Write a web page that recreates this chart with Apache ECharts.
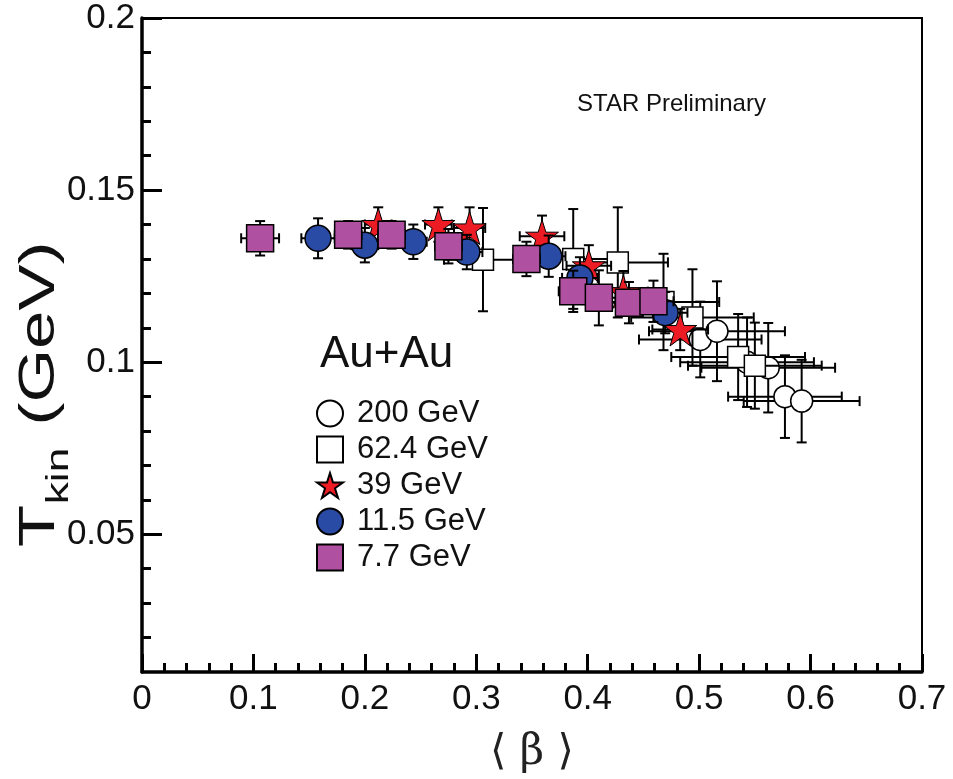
<!DOCTYPE html>
<html>
<head>
<meta charset="utf-8">
<script src="https://cdn.jsdelivr.net/npm/echarts@6/dist/echarts.min.js"></script>
<style>
  html, body { margin: 0; padding: 0; background: #fff; }
  #chart { width: 953px; height: 779px; }
</style>
</head>
<body>
<div id="chart"></div>
<script>
// Kinetic freeze-out temperature vs mean radial flow velocity, Au+Au
const energies = ['200 GeV', '62.4 GeV', '39 GeV', '11.5 GeV', '7.7 GeV'];

const beta200 = [0.501, 0.516, 0.543, 0.562, 0.577, 0.592];
const tkin200 = [0.1066, 0.109, 0.100, 0.0984, 0.090, 0.0887];
const betaErr200 = [0.055, 0.061, 0.060, 0.060, 0.051, 0.052];
const tkinErr200 = [0.011, 0.0145, 0.013, 0.013, 0.012, 0.012];

const beta62 = [0.306, 0.387, 0.427, 0.468, 0.494, 0.535, 0.550];
const tkin62 = [0.1298, 0.130, 0.129, 0.1175, 0.113, 0.1015, 0.099];
const betaErr62 = [0.035, 0.040, 0.045, 0.050, 0.055, 0.060, 0.060];
const tkinErr62 = [0.015, 0.0145, 0.016, 0.014, 0.014, 0.0125, 0.0125];

const beta39 = [0.212, 0.266, 0.294, 0.359, 0.401, 0.432, 0.483];
const tkin39 = [0.140, 0.140, 0.139, 0.1366, 0.128, 0.1205, 0.1095];
const betaErr39 = [0.012, 0.012, 0.014, 0.020, 0.020, 0.022, 0.025];
const tkinErr39 = [0.005, 0.005, 0.006, 0.006, 0.006, 0.006, 0.006];

const beta115 = [0.158, 0.200, 0.2435, 0.2915, 0.365, 0.393, 0.4695];
const tkin115 = [0.136, 0.134, 0.135, 0.132, 0.1308, 0.1245, 0.1144];
const betaErr115 = [0.015, 0.012, 0.012, 0.014, 0.015, 0.016, 0.020];
const tkinErr115 = [0.0058, 0.005, 0.005, 0.005, 0.006, 0.006, 0.006];

const beta77 = [0.106, 0.185, 0.224, 0.275, 0.345, 0.387, 0.410, 0.437, 0.459];
const tkin77 = [0.136, 0.137, 0.137, 0.1337, 0.130, 0.1206, 0.1187, 0.1173, 0.1177];
const betaErr77 = [0.017, 0.012, 0.012, 0.012, 0.012, 0.013, 0.015, 0.018, 0.018];
const tkinErr77 = [0.005, 0.004, 0.004, 0.005, 0.005, 0.006, 0.008, 0.006, 0.006];

const xTickLabels = ['0', '0.1', '0.2', '0.3', '0.4', '0.5', '0.6', '0.7'];
const yMajorTicks = [0.05, 0.1, 0.15, 0.2];
const yTickLabels = ['0.05', '0.1', '0.15', '0.2'];
const yMinorTicks = [0.02, 0.03, 0.04, 0.06, 0.07, 0.08, 0.09, 0.11, 0.12, 0.13, 0.14, 0.16, 0.17, 0.18, 0.19];

const FONT = '"Liberation Sans", Arial, sans-serif';
const STAR = 'path://M50,2 L61,36 L97,36 L68,57 L79,92 L50,71 L21,92 L32,57 L3,36 L39,36 Z';

function zip(xs, ys, exs, eys) {
  return xs.map((x, i) => [x, ys[i], exs[i], eys[i]]);
}

function errorBars(params, api) {
  const x = api.value(0), y = api.value(1), ex = api.value(2), ey = api.value(3);
  const l = api.coord([x - ex, y]);
  const r = api.coord([x + ex, y]);
  const t = api.coord([x, y + ey]);
  const b = api.coord([x, y - ey]);
  const cap = 5;
  const st = { stroke: '#000', lineWidth: 2 };
  const line = (x1, y1, x2, y2) => ({ type: 'line', shape: { x1, y1, x2, y2 }, style: st });
  return {
    type: 'group',
    children: [
      line(l[0], l[1], r[0], r[1]),
      line(l[0], l[1] - cap, l[0], l[1] + cap),
      line(r[0], r[1] - cap, r[0], r[1] + cap),
      line(t[0], t[1], b[0], b[1]),
      line(t[0] - cap, t[1], t[0] + cap, t[1]),
      line(b[0] - cap, b[1], b[0] + cap, b[1])
    ]
  };
}

const markerStyles = [
  { symbol: 'circle', size: 22, itemStyle: { color: '#ffffff', borderColor: '#000', borderWidth: 1.5, opacity: 1 } },
  { symbol: 'rect', size: 21, itemStyle: { color: '#ffffff', borderColor: '#000', borderWidth: 1.5, opacity: 1 } },
  { symbol: STAR, size: 33, itemStyle: { color: '#ED1C24', borderColor: '#000', borderWidth: 1, opacity: 1 } },
  { symbol: 'circle', size: 26, itemStyle: { color: '#2A4BA5', borderColor: '#000', borderWidth: 1.5, opacity: 1 } },
  { symbol: 'rect', size: 27, itemStyle: { color: '#B050A0', borderColor: '#000', borderWidth: 1.5, opacity: 1 } }
];

const datasets = [
  zip(beta200, tkin200, betaErr200, tkinErr200),
  zip(beta62, tkin62, betaErr62, tkinErr62),
  zip(beta39, tkin39, betaErr39, tkinErr39),
  zip(beta115, tkin115, betaErr115, tkinErr115),
  zip(beta77, tkin77, betaErr77, tkinErr77)
];

const series = [];
datasets.forEach((data, i) => {
  series.push({
    name: energies[i] + ' errors',
    type: 'custom',
    renderItem: errorBars,
    data: data,
    encode: { x: 0, y: 1 },
    z: 10 + i * 2,
    silent: true
  });
  series.push({
    name: energies[i],
    type: 'scatter',
    data: data.map(d => [d[0], d[1]]),
    symbol: markerStyles[i].symbol,
    symbolSize: markerStyles[i].size,
    itemStyle: markerStyles[i].itemStyle,
    emphasis: { disabled: true },
    z: 11 + i * 2
  });
});

const chart = echarts.init(document.getElementById('chart'), null, { renderer: 'canvas' });

chart.setOption({
  animation: false,
  backgroundColor: '#fff',
  grid: {
    left: 142, top: 18, right: 31, bottom: 106,
    show: true, borderColor: '#000', borderWidth: 2, backgroundColor: 'transparent'
  },
  legend: {
    data: energies,
    orient: 'vertical',
    left: 311,
    top: 393,
    itemWidth: 26,
    itemHeight: 26,
    itemGap: 5,
    selectedMode: false,
    textStyle: { fontFamily: FONT, fontSize: 31, color: '#111', padding: [0, 0, 0, 9] }
  },
  xAxis: {
    type: 'value',
    min: 0, max: 0.7, interval: 0.1,
    name: '⟨ β ⟩',
    nameLocation: 'middle',
    nameGap: 60,
    nameTextStyle: { fontFamily: '"DejaVu Serif", serif', fontSize: 42, color: '#222' },
    axisLine: { show: true, lineStyle: { color: '#000', width: 3.5 } },
    axisTick: { show: true, inside: true, length: 18, lineStyle: { color: '#000', width: 3 } },
    minorTick: { show: true, splitNumber: 5, length: 9, lineStyle: { color: '#000', width: 3 } },
    axisLabel: {
      margin: 10, fontFamily: FONT, fontSize: 35, color: '#111',
      formatter: (v) => xTickLabels[Math.round(v * 10)]
    },
    splitLine: { show: false },
    minorSplitLine: { show: false }
  },
  yAxis: [
    {
      type: 'value',
      min: 0.01, max: 0.2,
      axisLine: { show: true, lineStyle: { color: '#000', width: 3.5 } },
      axisTick: { show: true, inside: true, length: 20, customValues: yMajorTicks, lineStyle: { color: '#000', width: 3 } },
      axisLabel: {
        margin: 7, fontFamily: FONT, fontSize: 35, color: '#111',
        customValues: yMajorTicks,
        formatter: (v) => yTickLabels[yMajorTicks.findIndex(t => Math.abs(t - v) < 1e-6)]
      },
      splitLine: { show: false }
    },
    {
      type: 'value',
      min: 0.01, max: 0.2,
      position: 'left',
      offset: 0,
      axisLine: { show: false },
      axisTick: { show: true, inside: true, length: 9, customValues: yMinorTicks, lineStyle: { color: '#000', width: 3 } },
      axisLabel: { show: false },
      splitLine: { show: false }
    }
  ],
  graphic: [
    {
      type: 'text', left: 577, top: 92,
      style: { text: 'STAR Preliminary', fontFamily: FONT, fontSize: 24, fill: '#111' }
    },
    {
      type: 'text', left: 320, top: 333,
      style: { text: 'Au+Au', fontFamily: FONT, fontSize: 44, fill: '#111' }
    },
    {
      type: 'group',
      x: 40, y: 547,
      rotation: Math.PI / 2,
      scaleX: 1.38,
      children: [
        { type: 'text', x: 0, y: 0, style: { text: 'T', fontFamily: FONT, fontSize: 50, fill: '#111', textAlign: 'left', textVerticalAlign: 'middle' } },
        { type: 'text', x: 31, y: 19, style: { text: 'kin', fontFamily: FONT, fontSize: 32, fill: '#111', textAlign: 'left', textVerticalAlign: 'middle' } },
        { type: 'text', x: 88, y: 0, style: { text: '(GeV)', fontFamily: FONT, fontSize: 50, fill: '#111', textAlign: 'left', textVerticalAlign: 'middle' } }
      ]
    }
  ],
  series: series
});
</script>
</body>
</html>
